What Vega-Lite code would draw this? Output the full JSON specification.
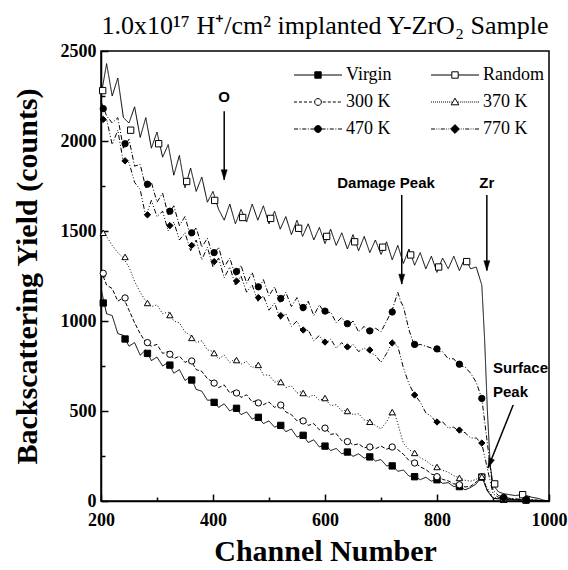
{
  "$schema": "https://vega.github.io/schema/vega-lite/v6.json",
  "width": 448,
  "height": 450,
  "autosize": {"type": "none"},
  "padding": {"left": 101, "top": 51, "right": 19, "bottom": 69},
  "background": "white",
  "title": {"text": "1.0x10¹⁷ H⁺/cm² implanted Y-ZrO₂  Sample", "font": "Liberation Serif", "fontSize": 26, "fontWeight": "normal", "color": "black", "offset": 3, "anchor": "middle"},
  "config": {
    "view": {"stroke": "black", "strokeWidth": 1.5},
    "axis": {"domainColor": "black", "domainWidth": 1.5, "tickColor": "black", "tickWidth": 1.5, "labelFont": "Liberation Serif", "labelFontWeight": "bold", "labelFontSize": 18, "labelColor": "black", "titleFont": "Liberation Serif", "titleFontWeight": "bold", "titleFontSize": 30, "titleColor": "black", "grid": false, "labelOverlap": false, "labelFlush": false}
  },
  "datasets": {
    "lines": [
      {"s":"Virgin","c":200,"v":1180},{"s":"Virgin","c":210,"v":1040},{"s":"Virgin","c":220,"v":1030},{"s":"Virgin","c":230,"v":930},{"s":"Virgin","c":240,"v":920},{"s":"Virgin","c":250,"v":860},{"s":"Virgin","c":260,"v":880},{"s":"Virgin","c":270,"v":810},{"s":"Virgin","c":280,"v":840},{"s":"Virgin","c":290,"v":780},{"s":"Virgin","c":300,"v":800},{"s":"Virgin","c":310,"v":750},{"s":"Virgin","c":320,"v":770},{"s":"Virgin","c":330,"v":710},{"s":"Virgin","c":340,"v":730},{"s":"Virgin","c":350,"v":670},{"s":"Virgin","c":360,"v":690},{"s":"Virgin","c":370,"v":620},{"s":"Virgin","c":380,"v":610},{"s":"Virgin","c":390,"v":560},{"s":"Virgin","c":400,"v":560},{"s":"Virgin","c":410,"v":520},{"s":"Virgin","c":420,"v":540},{"s":"Virgin","c":430,"v":500},{"s":"Virgin","c":440,"v":520},{"s":"Virgin","c":450,"v":480},{"s":"Virgin","c":460,"v":495},{"s":"Virgin","c":470,"v":455},{"s":"Virgin","c":480,"v":470},{"s":"Virgin","c":490,"v":430},{"s":"Virgin","c":500,"v":445},{"s":"Virgin","c":510,"v":410},{"s":"Virgin","c":520,"v":425},{"s":"Virgin","c":530,"v":385},{"s":"Virgin","c":540,"v":400},{"s":"Virgin","c":550,"v":355},{"s":"Virgin","c":560,"v":370},{"s":"Virgin","c":570,"v":325},{"s":"Virgin","c":580,"v":340},{"s":"Virgin","c":590,"v":300},{"s":"Virgin","c":600,"v":315},{"s":"Virgin","c":610,"v":280},{"s":"Virgin","c":620,"v":292},{"s":"Virgin","c":630,"v":262},{"s":"Virgin","c":640,"v":275},{"s":"Virgin","c":650,"v":248},{"s":"Virgin","c":660,"v":262},{"s":"Virgin","c":670,"v":238},{"s":"Virgin","c":680,"v":250},{"s":"Virgin","c":690,"v":222},{"s":"Virgin","c":700,"v":230},{"s":"Virgin","c":710,"v":195},{"s":"Virgin","c":720,"v":200},{"s":"Virgin","c":730,"v":165},{"s":"Virgin","c":740,"v":172},{"s":"Virgin","c":750,"v":138},{"s":"Virgin","c":760,"v":140},{"s":"Virgin","c":770,"v":118},{"s":"Virgin","c":780,"v":132},{"s":"Virgin","c":790,"v":110},{"s":"Virgin","c":800,"v":122},{"s":"Virgin","c":810,"v":98},{"s":"Virgin","c":820,"v":102},{"s":"Virgin","c":830,"v":80},{"s":"Virgin","c":840,"v":85},{"s":"Virgin","c":850,"v":62},{"s":"Virgin","c":860,"v":75},{"s":"Virgin","c":870,"v":95},{"s":"Virgin","c":880,"v":135},{"s":"Virgin","c":890,"v":55},{"s":"Virgin","c":900,"v":15},{"s":"Virgin","c":910,"v":12},{"s":"Virgin","c":920,"v":8},{"s":"Virgin","c":930,"v":10},{"s":"Virgin","c":940,"v":6},{"s":"Virgin","c":950,"v":8},{"s":"Virgin","c":960,"v":5},{"s":"Virgin","c":970,"v":4},{"s":"Virgin","c":980,"v":3},{"s":"Virgin","c":990,"v":2},{"s":"Virgin","c":1000,"v":0},
      {"s":"Random","c":200,"v":2250},{"s":"Random","c":210,"v":2430},{"s":"Random","c":220,"v":2250},{"s":"Random","c":230,"v":2350},{"s":"Random","c":240,"v":2130},{"s":"Random","c":250,"v":2100},{"s":"Random","c":260,"v":2190},{"s":"Random","c":270,"v":2020},{"s":"Random","c":280,"v":2130},{"s":"Random","c":290,"v":1960},{"s":"Random","c":300,"v":2050},{"s":"Random","c":310,"v":1910},{"s":"Random","c":320,"v":1980},{"s":"Random","c":330,"v":1810},{"s":"Random","c":340,"v":1920},{"s":"Random","c":350,"v":1740},{"s":"Random","c":360,"v":1850},{"s":"Random","c":370,"v":1720},{"s":"Random","c":380,"v":1800},{"s":"Random","c":390,"v":1660},{"s":"Random","c":400,"v":1720},{"s":"Random","c":410,"v":1620},{"s":"Random","c":420,"v":1560},{"s":"Random","c":430,"v":1650},{"s":"Random","c":440,"v":1540},{"s":"Random","c":450,"v":1620},{"s":"Random","c":460,"v":1550},{"s":"Random","c":470,"v":1650},{"s":"Random","c":480,"v":1560},{"s":"Random","c":490,"v":1640},{"s":"Random","c":500,"v":1540},{"s":"Random","c":510,"v":1610},{"s":"Random","c":520,"v":1510},{"s":"Random","c":530,"v":1580},{"s":"Random","c":540,"v":1480},{"s":"Random","c":550,"v":1560},{"s":"Random","c":560,"v":1470},{"s":"Random","c":570,"v":1540},{"s":"Random","c":580,"v":1450},{"s":"Random","c":590,"v":1520},{"s":"Random","c":600,"v":1430},{"s":"Random","c":610,"v":1510},{"s":"Random","c":620,"v":1420},{"s":"Random","c":630,"v":1490},{"s":"Random","c":640,"v":1400},{"s":"Random","c":650,"v":1480},{"s":"Random","c":660,"v":1390},{"s":"Random","c":670,"v":1470},{"s":"Random","c":680,"v":1380},{"s":"Random","c":690,"v":1450},{"s":"Random","c":700,"v":1370},{"s":"Random","c":710,"v":1440},{"s":"Random","c":720,"v":1340},{"s":"Random","c":730,"v":1420},{"s":"Random","c":740,"v":1320},{"s":"Random","c":750,"v":1400},{"s":"Random","c":760,"v":1310},{"s":"Random","c":770,"v":1380},{"s":"Random","c":780,"v":1290},{"s":"Random","c":790,"v":1360},{"s":"Random","c":800,"v":1270},{"s":"Random","c":810,"v":1350},{"s":"Random","c":820,"v":1290},{"s":"Random","c":830,"v":1360},{"s":"Random","c":840,"v":1280},{"s":"Random","c":850,"v":1350},{"s":"Random","c":860,"v":1290},{"s":"Random","c":870,"v":1300},{"s":"Random","c":880,"v":1200},{"s":"Random","c":885,"v":900},{"s":"Random","c":890,"v":500},{"s":"Random","c":895,"v":200},{"s":"Random","c":900,"v":90},{"s":"Random","c":910,"v":50},{"s":"Random","c":920,"v":40},{"s":"Random","c":930,"v":35},{"s":"Random","c":940,"v":30},{"s":"Random","c":950,"v":35},{"s":"Random","c":960,"v":30},{"s":"Random","c":970,"v":20},{"s":"Random","c":980,"v":15},{"s":"Random","c":990,"v":5},{"s":"Random","c":1000,"v":0},
      {"s":"300 K","c":200,"v":1280},{"s":"300 K","c":210,"v":1200},{"s":"300 K","c":220,"v":1180},{"s":"300 K","c":230,"v":1110},{"s":"300 K","c":240,"v":1130},{"s":"300 K","c":250,"v":1060},{"s":"300 K","c":260,"v":990},{"s":"300 K","c":270,"v":930},{"s":"300 K","c":280,"v":880},{"s":"300 K","c":290,"v":860},{"s":"300 K","c":300,"v":870},{"s":"300 K","c":310,"v":820},{"s":"300 K","c":320,"v":830},{"s":"300 K","c":330,"v":790},{"s":"300 K","c":340,"v":805},{"s":"300 K","c":350,"v":770},{"s":"300 K","c":360,"v":785},{"s":"300 K","c":370,"v":730},{"s":"300 K","c":380,"v":720},{"s":"300 K","c":390,"v":680},{"s":"300 K","c":400,"v":660},{"s":"300 K","c":410,"v":630},{"s":"300 K","c":420,"v":645},{"s":"300 K","c":430,"v":600},{"s":"300 K","c":440,"v":615},{"s":"300 K","c":450,"v":575},{"s":"300 K","c":460,"v":590},{"s":"300 K","c":470,"v":550},{"s":"300 K","c":480,"v":560},{"s":"300 K","c":490,"v":535},{"s":"300 K","c":500,"v":550},{"s":"300 K","c":510,"v":520},{"s":"300 K","c":520,"v":540},{"s":"300 K","c":530,"v":495},{"s":"300 K","c":540,"v":480},{"s":"300 K","c":550,"v":445},{"s":"300 K","c":560,"v":460},{"s":"300 K","c":570,"v":420},{"s":"300 K","c":580,"v":430},{"s":"300 K","c":590,"v":395},{"s":"300 K","c":600,"v":410},{"s":"300 K","c":610,"v":370},{"s":"300 K","c":620,"v":375},{"s":"300 K","c":630,"v":335},{"s":"300 K","c":640,"v":340},{"s":"300 K","c":650,"v":310},{"s":"300 K","c":660,"v":318},{"s":"300 K","c":670,"v":295},{"s":"300 K","c":680,"v":305},{"s":"300 K","c":690,"v":290},{"s":"300 K","c":700,"v":305},{"s":"300 K","c":710,"v":288},{"s":"300 K","c":720,"v":300},{"s":"300 K","c":730,"v":285},{"s":"300 K","c":740,"v":260},{"s":"300 K","c":750,"v":225},{"s":"300 K","c":760,"v":215},{"s":"300 K","c":770,"v":190},{"s":"300 K","c":780,"v":175},{"s":"300 K","c":790,"v":150},{"s":"300 K","c":800,"v":140},{"s":"300 K","c":810,"v":120},{"s":"300 K","c":820,"v":112},{"s":"300 K","c":830,"v":95},{"s":"300 K","c":840,"v":92},{"s":"300 K","c":850,"v":78},{"s":"300 K","c":860,"v":82},{"s":"300 K","c":870,"v":105},{"s":"300 K","c":880,"v":140},{"s":"300 K","c":890,"v":60},{"s":"300 K","c":900,"v":15},{"s":"300 K","c":910,"v":12},{"s":"300 K","c":920,"v":10},{"s":"300 K","c":930,"v":8},{"s":"300 K","c":940,"v":7},{"s":"300 K","c":950,"v":6},{"s":"300 K","c":960,"v":5},{"s":"300 K","c":970,"v":4},{"s":"300 K","c":980,"v":3},{"s":"300 K","c":990,"v":2},{"s":"300 K","c":1000,"v":0},
      {"s":"370 K","c":200,"v":1500},{"s":"370 K","c":210,"v":1470},{"s":"370 K","c":220,"v":1420},{"s":"370 K","c":230,"v":1380},{"s":"370 K","c":240,"v":1350},{"s":"370 K","c":250,"v":1300},{"s":"370 K","c":260,"v":1220},{"s":"370 K","c":270,"v":1160},{"s":"370 K","c":280,"v":1110},{"s":"370 K","c":290,"v":1080},{"s":"370 K","c":300,"v":1090},{"s":"370 K","c":310,"v":1040},{"s":"370 K","c":320,"v":1050},{"s":"370 K","c":330,"v":1000},{"s":"370 K","c":340,"v":990},{"s":"370 K","c":350,"v":940},{"s":"370 K","c":360,"v":920},{"s":"370 K","c":370,"v":880},{"s":"370 K","c":380,"v":890},{"s":"370 K","c":390,"v":840},{"s":"370 K","c":400,"v":830},{"s":"370 K","c":410,"v":790},{"s":"370 K","c":420,"v":810},{"s":"370 K","c":430,"v":770},{"s":"370 K","c":440,"v":790},{"s":"370 K","c":450,"v":760},{"s":"370 K","c":460,"v":775},{"s":"370 K","c":470,"v":740},{"s":"370 K","c":480,"v":760},{"s":"370 K","c":490,"v":700},{"s":"370 K","c":500,"v":700},{"s":"370 K","c":510,"v":660},{"s":"370 K","c":520,"v":670},{"s":"370 K","c":530,"v":630},{"s":"370 K","c":540,"v":640},{"s":"370 K","c":550,"v":600},{"s":"370 K","c":560,"v":610},{"s":"370 K","c":570,"v":575},{"s":"370 K","c":580,"v":590},{"s":"370 K","c":590,"v":560},{"s":"370 K","c":600,"v":570},{"s":"370 K","c":610,"v":530},{"s":"370 K","c":620,"v":535},{"s":"370 K","c":630,"v":500},{"s":"370 K","c":640,"v":505},{"s":"370 K","c":650,"v":480},{"s":"370 K","c":660,"v":485},{"s":"370 K","c":670,"v":450},{"s":"370 K","c":680,"v":445},{"s":"370 K","c":690,"v":420},{"s":"370 K","c":700,"v":400},{"s":"370 K","c":710,"v":440},{"s":"370 K","c":720,"v":495},{"s":"370 K","c":725,"v":480},{"s":"370 K","c":730,"v":430},{"s":"370 K","c":740,"v":320},{"s":"370 K","c":750,"v":285},{"s":"370 K","c":760,"v":270},{"s":"370 K","c":770,"v":240},{"s":"370 K","c":780,"v":225},{"s":"370 K","c":790,"v":200},{"s":"370 K","c":800,"v":190},{"s":"370 K","c":810,"v":170},{"s":"370 K","c":820,"v":160},{"s":"370 K","c":830,"v":140},{"s":"370 K","c":840,"v":130},{"s":"370 K","c":850,"v":115},{"s":"370 K","c":860,"v":110},{"s":"370 K","c":870,"v":120},{"s":"370 K","c":880,"v":140},{"s":"370 K","c":890,"v":70},{"s":"370 K","c":900,"v":20},{"s":"370 K","c":910,"v":15},{"s":"370 K","c":920,"v":12},{"s":"370 K","c":930,"v":10},{"s":"370 K","c":940,"v":8},{"s":"370 K","c":950,"v":8},{"s":"370 K","c":960,"v":6},{"s":"370 K","c":970,"v":5},{"s":"370 K","c":980,"v":3},{"s":"370 K","c":990,"v":2},{"s":"370 K","c":1000,"v":0},
      {"s":"470 K","c":200,"v":2220},{"s":"470 K","c":210,"v":2140},{"s":"470 K","c":220,"v":2100},{"s":"470 K","c":230,"v":2130},{"s":"470 K","c":240,"v":1960},{"s":"470 K","c":250,"v":2010},{"s":"470 K","c":260,"v":1860},{"s":"470 K","c":270,"v":1870},{"s":"470 K","c":280,"v":1740},{"s":"470 K","c":290,"v":1770},{"s":"470 K","c":300,"v":1660},{"s":"470 K","c":310,"v":1710},{"s":"470 K","c":320,"v":1590},{"s":"470 K","c":330,"v":1640},{"s":"470 K","c":340,"v":1530},{"s":"470 K","c":350,"v":1580},{"s":"470 K","c":360,"v":1470},{"s":"470 K","c":370,"v":1520},{"s":"470 K","c":380,"v":1410},{"s":"470 K","c":390,"v":1460},{"s":"470 K","c":400,"v":1360},{"s":"470 K","c":410,"v":1410},{"s":"470 K","c":420,"v":1300},{"s":"470 K","c":430,"v":1350},{"s":"470 K","c":440,"v":1250},{"s":"470 K","c":450,"v":1310},{"s":"470 K","c":460,"v":1210},{"s":"470 K","c":470,"v":1270},{"s":"470 K","c":480,"v":1170},{"s":"470 K","c":490,"v":1230},{"s":"470 K","c":500,"v":1140},{"s":"470 K","c":510,"v":1190},{"s":"470 K","c":520,"v":1100},{"s":"470 K","c":530,"v":1160},{"s":"470 K","c":540,"v":1080},{"s":"470 K","c":550,"v":1130},{"s":"470 K","c":560,"v":1050},{"s":"470 K","c":570,"v":1110},{"s":"470 K","c":580,"v":1030},{"s":"470 K","c":590,"v":1090},{"s":"470 K","c":600,"v":1040},{"s":"470 K","c":610,"v":1050},{"s":"470 K","c":620,"v":990},{"s":"470 K","c":630,"v":1020},{"s":"470 K","c":640,"v":970},{"s":"470 K","c":650,"v":1000},{"s":"470 K","c":660,"v":940},{"s":"470 K","c":670,"v":970},{"s":"470 K","c":680,"v":930},{"s":"470 K","c":690,"v":960},{"s":"470 K","c":700,"v":940},{"s":"470 K","c":710,"v":1000},{"s":"470 K","c":720,"v":1060},{"s":"470 K","c":730,"v":1160},{"s":"470 K","c":735,"v":1110},{"s":"470 K","c":740,"v":1080},{"s":"470 K","c":750,"v":950},{"s":"470 K","c":760,"v":860},{"s":"470 K","c":770,"v":870},{"s":"470 K","c":780,"v":860},{"s":"470 K","c":790,"v":850},{"s":"470 K","c":800,"v":830},{"s":"470 K","c":810,"v":830},{"s":"470 K","c":820,"v":790},{"s":"470 K","c":830,"v":790},{"s":"470 K","c":840,"v":750},{"s":"470 K","c":850,"v":745},{"s":"470 K","c":860,"v":710},{"s":"470 K","c":870,"v":660},{"s":"470 K","c":880,"v":570},{"s":"470 K","c":890,"v":320},{"s":"470 K","c":900,"v":60},{"s":"470 K","c":910,"v":30},{"s":"470 K","c":920,"v":20},{"s":"470 K","c":930,"v":15},{"s":"470 K","c":940,"v":12},{"s":"470 K","c":950,"v":10},{"s":"470 K","c":960,"v":8},{"s":"470 K","c":970,"v":6},{"s":"470 K","c":980,"v":4},{"s":"470 K","c":990,"v":2},{"s":"470 K","c":1000,"v":0},
      {"s":"770 K","c":200,"v":2130},{"s":"770 K","c":210,"v":2120},{"s":"770 K","c":220,"v":1980},{"s":"770 K","c":230,"v":2060},{"s":"770 K","c":240,"v":1880},{"s":"770 K","c":250,"v":1880},{"s":"770 K","c":260,"v":1770},{"s":"770 K","c":270,"v":1730},{"s":"770 K","c":280,"v":1580},{"s":"770 K","c":290,"v":1670},{"s":"770 K","c":300,"v":1580},{"s":"770 K","c":310,"v":1610},{"s":"770 K","c":320,"v":1500},{"s":"770 K","c":330,"v":1550},{"s":"770 K","c":340,"v":1450},{"s":"770 K","c":350,"v":1490},{"s":"770 K","c":360,"v":1390},{"s":"770 K","c":370,"v":1450},{"s":"770 K","c":380,"v":1340},{"s":"770 K","c":390,"v":1410},{"s":"770 K","c":400,"v":1300},{"s":"770 K","c":410,"v":1350},{"s":"770 K","c":420,"v":1240},{"s":"770 K","c":430,"v":1300},{"s":"770 K","c":440,"v":1200},{"s":"770 K","c":450,"v":1250},{"s":"770 K","c":460,"v":1160},{"s":"770 K","c":470,"v":1200},{"s":"770 K","c":480,"v":1110},{"s":"770 K","c":490,"v":1140},{"s":"770 K","c":500,"v":1060},{"s":"770 K","c":510,"v":1100},{"s":"770 K","c":520,"v":1010},{"s":"770 K","c":530,"v":1040},{"s":"770 K","c":540,"v":970},{"s":"770 K","c":550,"v":1000},{"s":"770 K","c":560,"v":935},{"s":"770 K","c":570,"v":950},{"s":"770 K","c":580,"v":890},{"s":"770 K","c":590,"v":920},{"s":"770 K","c":600,"v":870},{"s":"770 K","c":610,"v":900},{"s":"770 K","c":620,"v":850},{"s":"770 K","c":630,"v":880},{"s":"770 K","c":640,"v":840},{"s":"770 K","c":650,"v":870},{"s":"770 K","c":660,"v":830},{"s":"770 K","c":670,"v":850},{"s":"770 K","c":680,"v":825},{"s":"770 K","c":690,"v":810},{"s":"770 K","c":700,"v":770},{"s":"770 K","c":710,"v":820},{"s":"770 K","c":720,"v":880},{"s":"770 K","c":730,"v":860},{"s":"770 K","c":740,"v":740},{"s":"770 K","c":750,"v":650},{"s":"770 K","c":760,"v":590},{"s":"770 K","c":770,"v":550},{"s":"770 K","c":780,"v":490},{"s":"770 K","c":790,"v":470},{"s":"770 K","c":800,"v":430},{"s":"770 K","c":810,"v":440},{"s":"770 K","c":820,"v":405},{"s":"770 K","c":830,"v":410},{"s":"770 K","c":840,"v":385},{"s":"770 K","c":850,"v":380},{"s":"770 K","c":860,"v":350},{"s":"770 K","c":870,"v":350},{"s":"770 K","c":880,"v":320},{"s":"770 K","c":890,"v":180},{"s":"770 K","c":900,"v":40},{"s":"770 K","c":910,"v":20},{"s":"770 K","c":920,"v":15},{"s":"770 K","c":930,"v":12},{"s":"770 K","c":940,"v":10},{"s":"770 K","c":950,"v":8},{"s":"770 K","c":960,"v":6},{"s":"770 K","c":970,"v":5},{"s":"770 K","c":980,"v":3},{"s":"770 K","c":990,"v":2},{"s":"770 K","c":1000,"v":0}
    ],
    "markers": [
      {"s":"Virgin","c":204,"v":1100},{"s":"Virgin","c":243,"v":900},{"s":"Virgin","c":283,"v":820},{"s":"Virgin","c":323,"v":755},{"s":"Virgin","c":362,"v":672},{"s":"Virgin","c":402,"v":548},{"s":"Virgin","c":442,"v":515},{"s":"Virgin","c":481,"v":465},{"s":"Virgin","c":521,"v":420},{"s":"Virgin","c":561,"v":365},{"s":"Virgin","c":600,"v":305},{"s":"Virgin","c":640,"v":272},{"s":"Virgin","c":680,"v":245},{"s":"Virgin","c":720,"v":195},{"s":"Virgin","c":760,"v":135},{"s":"Virgin","c":800,"v":118},{"s":"Virgin","c":840,"v":80},{"s":"Virgin","c":880,"v":133},{"s":"Virgin","c":919,"v":9},{"s":"Virgin","c":959,"v":5},
      {"s":"Random","c":203,"v":2280},{"s":"Random","c":253,"v":2060},{"s":"Random","c":303,"v":1985},{"s":"Random","c":353,"v":1775},{"s":"Random","c":403,"v":1670},{"s":"Random","c":453,"v":1575},{"s":"Random","c":503,"v":1570},{"s":"Random","c":553,"v":1515},{"s":"Random","c":603,"v":1470},{"s":"Random","c":653,"v":1440},{"s":"Random","c":703,"v":1410},{"s":"Random","c":753,"v":1367},{"s":"Random","c":803,"v":1300},{"s":"Random","c":853,"v":1330},{"s":"Random","c":903,"v":95},{"s":"Random","c":953,"v":35},
      {"s":"300 K","c":204,"v":1265},{"s":"300 K","c":243,"v":1128},{"s":"300 K","c":283,"v":880},{"s":"300 K","c":323,"v":815},{"s":"300 K","c":362,"v":778},{"s":"300 K","c":402,"v":655},{"s":"300 K","c":442,"v":600},{"s":"300 K","c":481,"v":545},{"s":"300 K","c":521,"v":533},{"s":"300 K","c":561,"v":445},{"s":"300 K","c":600,"v":405},{"s":"300 K","c":640,"v":330},{"s":"300 K","c":680,"v":300},{"s":"300 K","c":720,"v":300},{"s":"300 K","c":760,"v":211},{"s":"300 K","c":800,"v":135},{"s":"300 K","c":840,"v":90},{"s":"300 K","c":880,"v":135},{"s":"300 K","c":919,"v":10},{"s":"300 K","c":959,"v":5},
      {"s":"370 K","c":204,"v":1490},{"s":"370 K","c":243,"v":1356},{"s":"370 K","c":283,"v":1100},{"s":"370 K","c":323,"v":1033},{"s":"370 K","c":362,"v":906},{"s":"370 K","c":402,"v":822},{"s":"370 K","c":442,"v":783},{"s":"370 K","c":481,"v":756},{"s":"370 K","c":521,"v":661},{"s":"370 K","c":561,"v":600},{"s":"370 K","c":600,"v":572},{"s":"370 K","c":640,"v":500},{"s":"370 K","c":680,"v":440},{"s":"370 K","c":720,"v":494},{"s":"370 K","c":760,"v":267},{"s":"370 K","c":800,"v":189},{"s":"370 K","c":840,"v":128},{"s":"370 K","c":880,"v":135},{"s":"370 K","c":919,"v":12},{"s":"370 K","c":959,"v":6},
      {"s":"470 K","c":204,"v":2180},{"s":"470 K","c":243,"v":1985},{"s":"470 K","c":283,"v":1760},{"s":"470 K","c":323,"v":1610},{"s":"470 K","c":362,"v":1490},{"s":"470 K","c":402,"v":1380},{"s":"470 K","c":442,"v":1275},{"s":"470 K","c":481,"v":1190},{"s":"470 K","c":521,"v":1125},{"s":"470 K","c":561,"v":1075},{"s":"470 K","c":600,"v":1055},{"s":"470 K","c":640,"v":985},{"s":"470 K","c":680,"v":945},{"s":"470 K","c":720,"v":1050},{"s":"470 K","c":760,"v":870},{"s":"470 K","c":800,"v":845},{"s":"470 K","c":840,"v":760},{"s":"470 K","c":880,"v":570},{"s":"470 K","c":919,"v":20},{"s":"470 K","c":959,"v":8},
      {"s":"770 K","c":204,"v":2120},{"s":"770 K","c":243,"v":1890},{"s":"770 K","c":283,"v":1590},{"s":"770 K","c":323,"v":1530},{"s":"770 K","c":362,"v":1420},{"s":"770 K","c":402,"v":1330},{"s":"770 K","c":442,"v":1222},{"s":"770 K","c":481,"v":1130},{"s":"770 K","c":521,"v":1030},{"s":"770 K","c":561,"v":950},{"s":"770 K","c":600,"v":883},{"s":"770 K","c":640,"v":856},{"s":"770 K","c":680,"v":839},{"s":"770 K","c":720,"v":878},{"s":"770 K","c":760,"v":589},{"s":"770 K","c":800,"v":439},{"s":"770 K","c":840,"v":394},{"s":"770 K","c":880,"v":322},{"s":"770 K","c":919,"v":15},{"s":"770 K","c":959,"v":6}
    ],
    "centerNotes": [
      {"c":420,"v":2245,"t":"O"},
      {"c":709,"v":1768,"t":"Damage Peak"},
      {"c":889,"v":1768,"t":"Zr"}
    ],
    "sideNotes": [
      {"c":900,"v":739,"t":"Surface"},
      {"c":900,"v":606,"t":"Peak"}
    ],
    "arrows": [
      {"c":420,"v":2165,"c2":420,"v2":1785},
      {"c":737,"v":1700,"c2":737,"v2":1205},
      {"c":889,"v":1700,"c2":889,"v2":1280},
      {"c":936,"v":533,"c2":891,"v2":183}
    ]
  },
  "layer": [
    {
      "data": {"name": "lines"},
      "mark": {"type": "line", "stroke": "black", "strokeWidth": 1, "clip": true},
      "encoding": {
        "x": {"field": "c", "type": "quantitative", "scale": {"domain": [200, 1000], "nice": false},
          "axis": {"title": "Channel Number", "values": [200,300,400,500,600,700,800,900,1000], "format": "d", "labelExpr": "datum.value % 200 === 0 ? datum.label : ''", "tickSize": {"condition": {"test": "datum.value % 200 === 0", "value": -7}, "value": -4}, "labelPadding": 17, "titlePadding": 4}},
        "y": {"field": "v", "type": "quantitative", "scale": {"domain": [0, 2500], "nice": false},
          "axis": {"title": "Backscattering Yield (counts)", "values": [0,250,500,750,1000,1250,1500,1750,2000,2250,2500], "format": "d", "labelExpr": "datum.value % 500 === 0 ? datum.label : ''", "tickSize": {"condition": {"test": "datum.value % 500 === 0", "value": -7}, "value": -4}, "labelPadding": 12, "titlePadding": 18}},
        "strokeDash": {"field": "s", "type": "nominal", "scale": {"domain": ["Virgin","Random","300 K","370 K","470 K","770 K"], "range": [[1,0],[1,0],[4,2],[1,2],[5,2,1,2],[5,2,1,2,1,2]]}, "legend": null}
      }
    },
    {
      "data": {"name": "markers"},
      "mark": {"type": "point", "stroke": "black", "strokeWidth": 1, "size": 40, "opacity": 1},
      "encoding": {
        "x": {"field": "c", "type": "quantitative"},
        "y": {"field": "v", "type": "quantitative"},
        "shape": {"field": "s", "type": "nominal", "scale": {"domain": ["Virgin","Random","300 K","370 K","470 K","770 K"], "range": ["square","square","circle","triangle-up","circle","diamond"]}, "legend": null},
        "fill": {"field": "s", "type": "nominal", "scale": {"domain": ["Virgin","Random","300 K","370 K","470 K","770 K"], "range": ["black","white","white","white","black","black"]}, "legend": null}
      }
    },
    {
      "data": {"name": "markers"},
      "mark": {"type": "point", "stroke": "black", "strokeWidth": 1, "size": 64, "opacity": 0},
      "encoding": {
        "x": {"field": "c", "type": "quantitative"},
        "y": {"field": "v", "type": "quantitative"},
        "shape": {"field": "s", "type": "nominal", "scale": {"domain": ["Virgin","Random","300 K","370 K","470 K","770 K"], "range": [
          "M-6,0H-0.8M0.8,0H6M-0.8,-0.8H0.8V0.8H-0.8Z",
          "M-6,0H-0.8M0.8,0H6M-0.8,-0.8H0.8V0.8H-0.8Z",
          "M-6,0H-5.25M-4.75,0H-4M-3.5,0H-2.75M-2.25,0H-1.5M1.2,0H1.95M2.45,0H3.2M3.7,0H4.45M4.95,0H5.7M-0.85,0A0.85,0.85 0 1,0 0.85,0A0.85,0.85 0 1,0 -0.85,0Z",
          "M-6,0h0.25M-5.5,0h0.25M-5,0h0.25M-4.5,0h0.25M-4,0h0.25M-3.5,0h0.25M-3,0h0.25M-2.5,0h0.25M-2,0h0.25M-1.5,0h0.25M-1.05,0h0.25M0.8,0h0.25M1.3,0h0.25M1.8,0h0.25M2.3,0h0.25M2.8,0h0.25M3.3,0h0.25M3.8,0h0.25M4.3,0h0.25M4.8,0h0.25M5.3,0h0.25M5.75,0h0.25M0,-0.95L0.95,0.7H-0.95Z",
          "M-6,0H-5M-4.6,0H-4.35M-3.95,0H-2.95M-2.55,0H-2.3M-1.9,0H-0.85M0.85,0H1.9M2.3,0H2.55M2.95,0H3.95M4.35,0H4.6M5,0H6M-0.85,0A0.85,0.85 0 1,0 0.85,0A0.85,0.85 0 1,0 -0.85,0Z",
          "M-6,0H-5M-4.65,0H-4.45M-4.1,0H-3.9M-3.55,0H-2.55M-2.2,0H-2M-1.65,0H-1.45M1.45,0H1.65M2,0H2.2M2.55,0H3.55M3.9,0H4.1M4.45,0H4.65M5,0H6M0,-1.1L1.1,0L0,1.1L-1.1,0Z"
        ]}, "legend": {"title": null, "orient": "none", "direction": "horizontal", "legendX": 208, "legendY": 15, "columns": 2, "columnPadding": 37, "rowPadding": 9, "symbolSize": 64, "symbolOpacity": 1, "symbolStrokeColor": "black", "symbolStrokeWidth": 1, "labelFont": "Liberation Serif", "labelFontSize": 18, "labelColor": "black", "labelOffset": 19, "padding": 0, "encode": {"symbols": {"update": {"stroke": {"value": "black"}, "strokeWidth": {"value": 1}, "opacity": {"value": 1}, "strokeOpacity": {"value": 1}}}}}},
        "fill": {"field": "s", "type": "nominal", "scale": {"domain": ["Virgin","Random","300 K","370 K","470 K","770 K"], "range": ["black","white","white","white","black","black"]}, "legend": {"title": null, "orient": "none", "direction": "horizontal", "legendX": 208, "legendY": 15, "columns": 2, "columnPadding": 37, "rowPadding": 9, "symbolSize": 64, "symbolOpacity": 1, "symbolStrokeColor": "black", "symbolStrokeWidth": 1, "labelFont": "Liberation Serif", "labelFontSize": 18, "labelColor": "black", "labelOffset": 19, "padding": 0, "encode": {"symbols": {"update": {"stroke": {"value": "black"}, "strokeWidth": {"value": 1}, "opacity": {"value": 1}, "strokeOpacity": {"value": 1}}}}}}
      }
    },
    {
      "data": {"name": "arrows"},
      "mark": {"type": "rule", "stroke": "black", "strokeWidth": 1.5},
      "encoding": {
        "x": {"field": "c", "type": "quantitative"},
        "y": {"field": "v", "type": "quantitative"},
        "x2": {"field": "c2"},
        "y2": {"field": "v2"}
      }
    },
    {
      "data": {"name": "arrows"},
      "mark": {"type": "point", "shape": "M0,0L-1,-3.3L1,-3.3Z", "size": 36, "filled": true, "fill": "black", "stroke": "black", "strokeWidth": 0.5, "opacity": 1},
      "encoding": {
        "x": {"field": "c2", "type": "quantitative"},
        "y": {"field": "v2", "type": "quantitative"},
        "angle": {"condition": {"test": "datum.c2 == 891", "value": 22}, "value": 0}
      }
    },
    {
      "data": {"name": "centerNotes"},
      "mark": {"type": "text", "font": "Liberation Sans", "fontWeight": "bold", "fontSize": 15, "color": "black", "align": "center", "baseline": "middle"},
      "encoding": {
        "x": {"field": "c", "type": "quantitative"},
        "y": {"field": "v", "type": "quantitative"},
        "text": {"field": "t"}
      }
    },
    {
      "data": {"name": "sideNotes"},
      "mark": {"type": "text", "font": "Liberation Sans", "fontWeight": "bold", "fontSize": 15, "color": "black", "align": "left", "baseline": "middle"},
      "encoding": {
        "x": {"field": "c", "type": "quantitative"},
        "y": {"field": "v", "type": "quantitative"},
        "text": {"field": "t"}
      }
    }
  ],
  "resolve": {"scale": {"shape": "independent", "fill": "independent"}}
}
